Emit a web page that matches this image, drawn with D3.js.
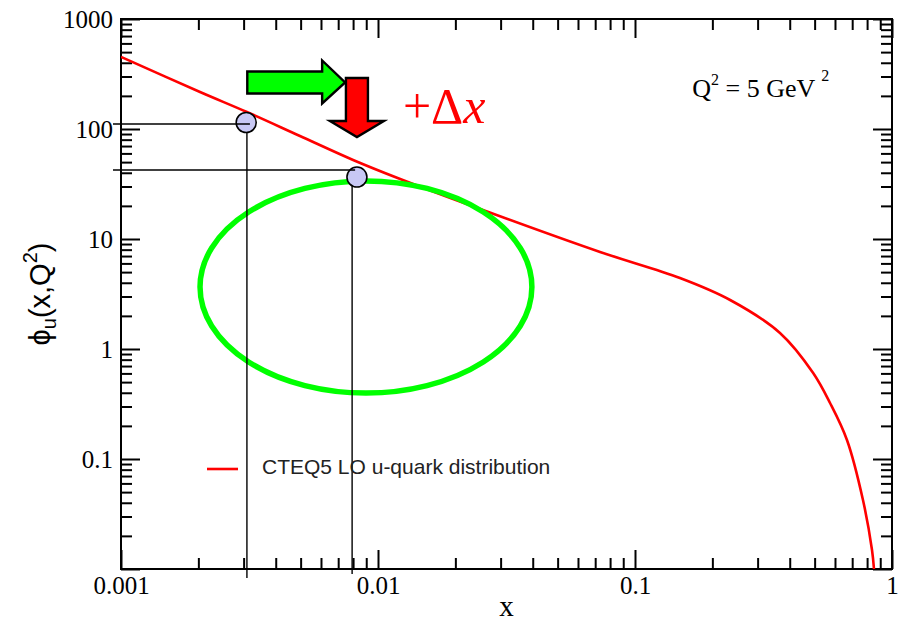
<!DOCTYPE html>
<html>
<head>
<meta charset="utf-8">
<script src="https://cdn.jsdelivr.net/npm/d3@7"></script>
<style>
  body { margin: 0; background: #fff; }
  svg { display: block; }
  .tick text { font-family: "Liberation Serif", "Times New Roman", serif; font-size: 25px; fill: #000; }
  .tick line { stroke: #000; stroke-width: 2; }
</style>
</head>
<body>
<svg id="chart" width="902" height="621"></svg>
<script>
// CTEQ5 LO u-quark distribution
const curveX = [0.001, 0.00203, 0.00309, 0.00497, 0.0080, 0.0122, 0.0256, 0.0731, 0.1496, 0.2345, 0.3665, 0.4935, 0.574, 0.668, 0.771, 0.836, 0.851];
const curveY = [452, 217, 142.7, 86.4, 52.3, 35.1, 18.35, 7.62, 4.42, 2.79, 1.40, 0.605, 0.323, 0.149, 0.0424, 0.0149, 0.0100];

// the two marked points and their guide lines
const pointX = [0.00307, 0.00828];
const pointY = [114.6, 36.6];
const guideX = [0.00309, 0.00793];
const guideY = [111, 42.4];

// green ellipse bounds (data units)
const ellipseX = [0.00203, 0.0397];
const ellipseY = [0.398, 33.7];

// arrows (data units)
const greenArrow = { x0: 0.00310, x1: 0.00745, y: 265 };
const redArrow = { x: 0.00828, y0: 291, y1: 84.5 };

const xMajor = [0.001, 0.01, 0.1, 1];
const xLabels = ["0.001", "0.01", "0.1", "1"];
const yMajor = [0.01, 0.1, 1, 10, 100, 1000];
const yLabels = ["", "0.1", "1", "10", "100", "1000"];

const legendText = "CTEQ5 LO u-quark distribution";

const W = 902, H = 621;
const M = { left: 121, top: 19, right: 10, bottom: 52 };
const iw = W - M.left - M.right, ih = H - M.top - M.bottom;

const svg = d3.select("#chart");
const g = svg.append("g").attr("transform", `translate(${M.left},${M.top})`);

const x = d3.scaleLog().domain([0.001, 1]).range([0, iw]);
const y = d3.scaleLog().domain([0.01, 1000]).range([ih, 0]);

const isMajor = (v) => Math.abs(Math.log10(v) - Math.round(Math.log10(v))) < 1e-9;
const xMinor = x.ticks().filter((v) => !isMajor(v));
const yMinor = y.ticks().filter((v) => !isMajor(v));

// ── axes: inward ticks on all four sides ──
function axisGroup(axis, transform) {
  const a = g.append("g").attr("transform", transform).call(axis);
  a.select(".domain").remove();
  return a;
}
const fmt = (labels, majors) => (d) => labels[majors.findIndex((m) => Math.abs(m - d) / m < 1e-9)] ?? "";

axisGroup(d3.axisBottom(x).tickValues(xMajor).tickSize(-19).tickPadding(7).tickFormat(fmt(xLabels, xMajor)), `translate(0,${ih})`);
axisGroup(d3.axisBottom(x).tickValues(xMinor).tickSize(-11).tickFormat(""), `translate(0,${ih})`);
axisGroup(d3.axisTop(x).tickValues(xMajor).tickSize(-19).tickFormat(""), "translate(0,0)");
axisGroup(d3.axisTop(x).tickValues(xMinor).tickSize(-11).tickFormat(""), "translate(0,0)");
axisGroup(d3.axisLeft(y).tickValues(yMajor).tickSize(-19).tickPadding(8).tickFormat(fmt(yLabels, yMajor)), "translate(0,0)");
axisGroup(d3.axisLeft(y).tickValues(yMinor).tickSize(-11).tickFormat(""), "translate(0,0)");
axisGroup(d3.axisRight(y).tickValues(yMajor).tickSize(-19).tickFormat(""), `translate(${iw},0)`);
axisGroup(d3.axisRight(y).tickValues(yMinor).tickSize(-11).tickFormat(""), `translate(${iw},0)`);

g.append("rect").attr("width", iw).attr("height", ih)
  .attr("fill", "none").attr("stroke", "#000").attr("stroke-width", 2);

// ── curve ──
g.append("clipPath").attr("id", "clip").append("rect").attr("width", iw).attr("height", ih);
const line = d3.line().x((d) => x(d[0])).y((d) => y(d[1])).curve(d3.curveCatmullRom.alpha(0.5));
g.append("path")
  .datum(d3.zip(curveX, curveY))
  .attr("clip-path", "url(#clip)")
  .attr("d", line)
  .attr("fill", "none").attr("stroke", "#ff0000").attr("stroke-width", 2.6);

// ── green ellipse ──
g.append("ellipse")
  .attr("cx", (x(ellipseX[0]) + x(ellipseX[1])) / 2)
  .attr("cy", (y(ellipseY[0]) + y(ellipseY[1])) / 2)
  .attr("rx", (x(ellipseX[1]) - x(ellipseX[0])) / 2)
  .attr("ry", (y(ellipseY[0]) - y(ellipseY[1])) / 2)
  .attr("fill", "none").attr("stroke", "#00ff00").attr("stroke-width", 5.5);

// ── guides and points ──
const drop = [9, 5];
guideX.forEach((gx, i) => {
  g.append("line")
    .attr("x1", x(gx)).attr("x2", x(gx))
    .attr("y1", y(pointY[i])).attr("y2", ih + drop[i])
    .attr("stroke", "#000").attr("stroke-width", 1.4);
});
g.selectAll(".pt").data(d3.zip(pointX, pointY)).join("circle")
  .attr("class", "pt")
  .attr("cx", (d) => x(d[0])).attr("cy", (d) => y(d[1])).attr("r", 10)
  .attr("fill", "#c8c8f4").attr("stroke", "#000").attr("stroke-width", 1.6);
guideY.forEach((gy, i) => {
  g.append("line")
    .attr("x1", -8).attr("x2", x(guideX[i]) + 3)
    .attr("y1", y(gy)).attr("y2", y(gy))
    .attr("stroke", "#000").attr("stroke-width", 1.4);
});

// ── arrows ──
{
  const x0 = x(greenArrow.x0), x1 = x(greenArrow.x1), cy = y(greenArrow.y);
  const hb = x1 - 23;
  const pts = [[x0, cy - 11], [hb, cy - 11], [hb, cy - 22], [x1, cy], [hb, cy + 21], [hb, cy + 11], [x0, cy + 11]];
  g.append("polygon").attr("points", pts.join(" "))
    .attr("fill", "#00ff00").attr("stroke", "#000").attr("stroke-width", 2.4).attr("stroke-linejoin", "miter");
}
{
  const cx = x(redArrow.x), y0 = y(redArrow.y0), y1 = y(redArrow.y1);
  const hb = y1 - 16;
  const pts = [[cx - 11, y0], [cx + 11, y0], [cx + 11, hb], [cx + 27, hb], [cx, y1], [cx - 27, hb], [cx - 11, hb]];
  g.append("polygon").attr("points", pts.join(" "))
    .attr("fill", "#ff0000").attr("stroke", "#000").attr("stroke-width", 2.4).attr("stroke-linejoin", "miter");
}

// ── +Δx ──
const dx = g.append("text")
  .attr("x", x(0.0125)).attr("y", y(113))
  .attr("fill", "#ff0000")
  .style("font-family", "'Liberation Serif', 'Times New Roman', serif")
  .style("font-size", "50px");
dx.append("tspan").text("+Δ");
dx.append("tspan").style("font-style", "italic").text("x");

// ── Q² label ──
const q = g.append("text")
  .attr("x", x(0.167)).attr("y", y(195))
  .style("font-family", "'Liberation Serif', 'Times New Roman', serif")
  .style("font-size", "26px");
q.append("tspan").text("Q");
q.append("tspan").attr("dy", -12).style("font-size", "16px").text("2");
q.append("tspan").attr("dy", 12).text(" = 5 GeV ");
q.append("tspan").attr("dy", -16).style("font-size", "16px").text("2");

// ── legend ──
g.append("line")
  .attr("x1", 207 - M.left).attr("x2", 238 - M.left)
  .attr("y1", 469 - M.top).attr("y2", 469 - M.top)
  .attr("stroke", "#ff0000").attr("stroke-width", 2.6);
g.append("text")
  .attr("x", 262 - M.left).attr("y", 467 - M.top).attr("dy", "0.35em")
  .attr("fill", "#222")
  .style("font-family", "'Liberation Sans', Arial, sans-serif")
  .style("font-size", "21px")
  .text(legendText);

// ── axis titles ──
svg.append("text")
  .attr("x", M.left + iw / 2).attr("y", 616)
  .attr("text-anchor", "middle")
  .style("font-family", "'Liberation Serif', 'Times New Roman', serif")
  .style("font-size", "29px")
  .text("x");

const yt = svg.append("text")
  .attr("transform", `translate(50,${M.top + ih / 2}) rotate(-90)`)
  .attr("text-anchor", "middle")
  .style("font-family", "'Liberation Sans', Arial, sans-serif")
  .style("font-size", "29px");
yt.append("tspan").text("ϕ");
yt.append("tspan").attr("dy", 6).style("font-size", "20px").text("u");
yt.append("tspan").attr("dy", -6).text("(x,Q");
yt.append("tspan").attr("dy", -13).style("font-size", "20px").text("2");
yt.append("tspan").attr("dy", 13).text(")");
</script>
</body>
</html>
